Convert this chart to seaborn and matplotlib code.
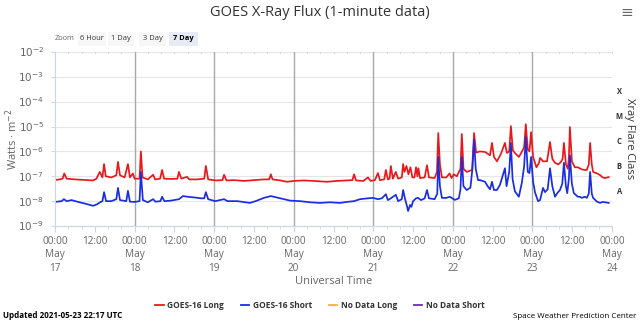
import numpy as np
import pandas as pd
import seaborn as sns
import matplotlib
matplotlib.use("Agg")
import matplotlib.pyplot as plt
from matplotlib.lines import Line2D
import matplotlib.ticker as mticker

# ---------------- data (hours since 2021-05-17 00:00 UTC, flux in W/m^2) ----------------
hours_long = [0, 1.5, 2.3, 2.8, 3.5, 6, 9, 11.5, 12.5, 13.5, 14.3, 14.8, 15.3, 17, 18.5, 19.0,
              19.6, 21, 22.0, 22.6, 23.5, 24.0, 25.5, 25.9, 26.4, 28, 29.6, 30.2, 31.7, 32.3,
              32.9, 35, 36.9, 37.4, 38.1, 39.8, 40.5, 43, 45.0, 45.5, 46.2, 48.5, 50.5, 51.0,
              51.7, 54, 57, 60, 63, 64.6, 65.1, 65.6, 68, 70, 72, 75, 78, 82, 85, 88, 89.7,
              90.2, 90.8, 93, 94.4, 95.2, 96.5, 97.4, 98.0, 99.3, 99.8, 100.4, 100.9, 101.3,
              101.9, 102.8, 103.5, 104.6, 105.0, 105.4, 106.0, 106.6, 107.2, 107.8, 108.4,
              108.9, 109.3, 109.6, 110.1, 111.5, 112.2, 112.8, 114.5, 115.2, 115.6, 116.1,
              116.7, 118, 119.0, 119.6, 120.3, 121.2, 122.3, 122.7, 123.2, 124.2, 125.8,
              126.4, 127.0, 128.2, 129.7, 131.2, 131.8, 132.4, 133.3, 134.5, 135.7, 136.3,
              137.0, 137.5, 138.1, 138.7, 139.9, 140.8, 141.5, 142.0, 142.6, 143.1, 143.6,
              144.2, 145.2, 146.0, 146.3, 147.2, 148.4, 149.3, 150.0, 150.8, 151.8, 152.6,
              153.1, 153.5, 154.1, 154.7, 155.0, 155.3, 155.9, 156.8, 157.7, 158.3, 158.9,
              159.8, 160.4, 161.0, 161.4, 161.9, 162.3, 163.5, 164.4, 165.2, 165.9, 167.0]
flux_long = [7.1e-8, 7.5e-8, 8e-8, 1.3e-7, 8e-8, 7.5e-8, 7.1e-8, 6.8e-8, 8e-8, 1.5e-7, 9e-8,
             3.1e-7, 1.0e-7, 9e-8, 1.1e-7, 3.8e-7, 1.1e-7, 9e-8, 3.1e-7, 9e-8, 1.3e-7, 8e-8,
             8e-8, 1.0e-6, 9e-8, 7.5e-8, 1.15e-7, 7.5e-8, 8e-8, 1.8e-7, 8e-8, 7.8e-8, 8e-8,
             1.5e-7, 8e-8, 9.5e-8, 7.5e-8, 7.5e-8, 8e-8, 2.6e-7, 7.5e-8, 6.8e-8, 7e-8,
             1.15e-7, 6.8e-8, 7e-8, 6.5e-8, 7e-8, 7.5e-8, 7.5e-8, 1.2e-7, 7.5e-8, 6.8e-8,
             6.0e-8, 6.5e-8, 6.8e-8, 6.5e-8, 6.0e-8, 6.5e-8, 6.8e-8, 7e-8, 1.2e-7, 6.8e-8,
             6.5e-8, 9e-8, 6.5e-8, 7e-8, 1.35e-7, 7e-8, 7.5e-8, 1.8e-7, 7.5e-8, 8e-8, 2.6e-7,
             8e-8, 1.5e-7, 8e-8, 9e-8, 3.1e-7, 1.5e-7, 2.6e-7, 1.2e-7, 2.3e-7, 9e-8, 9e-8,
             2.3e-7, 1.0e-7, 2.1e-7, 8.5e-8, 9e-8, 2.8e-7, 9e-8, 8.5e-8, 1.5e-7, 5.5e-6,
             3e-7, 9e-8, 9e-8, 1.3e-7, 8.5e-8, 1.2e-7, 1.0e-7, 2e-7, 5.0e-6, 2e-7, 1.5e-7,
             1.8e-7, 5.5e-6, 9e-7, 1.0e-6, 9.5e-7, 7e-7, 2.2e-6, 6e-7, 4e-7, 8e-7, 2.2e-6,
             8.7e-7, 1.0e-6, 1.05e-5, 1.1e-6, 8.7e-7, 6e-7, 9.5e-7, 1.5e-6, 1.25e-5, 1.2e-6,
             1.0e-6, 6e-6, 6e-7, 2.3e-7, 3.5e-7, 5.5e-7, 4e-7, 4e-7, 2.4e-6, 5e-7, 3.5e-7,
             3e-7, 3.8e-7, 5e-7, 2.2e-6, 3e-7, 2e-7, 6e-7, 9.5e-6, 4e-7, 2.3e-7, 2.3e-7,
             2.1e-7, 1.9e-7, 1.8e-7, 1.8e-7, 3e-7, 2.2e-6, 3e-7, 1.5e-7, 1.3e-7, 1.12e-7,
             9e-8, 8.5e-8, 9.3e-8]

hours_short = [0, 2.0, 2.7, 3.5, 5, 7, 9, 10.6, 11.5, 12.7, 13.6, 14.3, 14.8, 15.4, 17, 18.5,
               19.0, 19.6, 21.5, 22.0, 22.6, 24, 25.5, 25.9, 26.5, 28, 29.6, 30.3, 31.8, 32.3,
               33.0, 35, 37.4, 38.6, 40, 42.2, 44, 45.0, 45.5, 46.2, 48.3, 51.0, 52, 55, 58.8,
               60.5, 63, 65.1, 67.9, 70.9, 73.9, 76.9, 79.9, 82.9, 86.0, 88, 90.2, 92.0, 94.4,
               95.9, 97.4, 98.6, 99.8, 100.4, 101.3, 102.8, 103.5, 104.6, 105.0, 105.6, 106.2,
               106.5, 107.1, 107.5, 108.0, 108.9, 109.5, 110.4, 111.5, 112.2, 112.8, 114.5,
               115.3, 115.6, 116.1, 116.7, 118, 119.1, 120.6, 121.8, 122.3, 122.7, 123.2,
               124.2, 125.3, 125.9, 126.4, 126.9, 127.6, 128.2, 129.7, 130.5, 131.2, 131.8,
               132.4, 133.3, 134.2, 135.7, 136.2, 137.0, 137.5, 138.0, 138.7, 139.9, 140.8,
               141.5, 142.0, 142.6, 143.1, 143.6, 144.2, 144.8, 145.7, 146.3, 147.2, 147.8,
               148.6, 149.3, 150.0, 150.8, 151.5, 152.3, 153.0, 153.5, 154.1, 154.5, 155.0,
               155.3, 155.9, 156.5, 157.7, 158.3, 158.9, 159.8, 160.4, 161.0, 161.4, 161.9,
               162.3, 163.5, 164.4, 165.2, 165.9, 167.0]
flux_short = [9.3e-9, 1.0e-8, 1.2e-8, 1.0e-8, 1.1e-8, 9.3e-9, 8e-9, 7e-9, 6.5e-9, 7.5e-9,
              9e-9, 1.0e-8, 2.3e-8, 1.0e-8, 1.0e-8, 1.2e-8, 3.4e-8, 1.1e-8, 1.0e-8, 2.6e-8,
              9.5e-9, 9.3e-9, 1.0e-8, 1.5e-7, 1.1e-8, 9e-9, 1.2e-8, 9.5e-9, 1.0e-8, 1.5e-8,
              1.0e-8, 1.05e-8, 1.2e-8, 1.6e-8, 1.5e-8, 1.4e-8, 1.3e-8, 1.3e-8, 2.3e-8, 1.2e-8,
              1.0e-8, 1.2e-8, 1.0e-8, 1.0e-8, 8.5e-9, 1.0e-8, 1.35e-8, 1.6e-8, 1.3e-8,
              1.05e-8, 1.0e-8, 9e-9, 8.5e-9, 9e-9, 8.5e-9, 9.3e-9, 1.0e-8, 1.2e-8, 1.3e-8,
              1.35e-8, 1.2e-8, 1.3e-8, 1.9e-8, 1.1e-8, 1.3e-8, 1.8e-8, 1.0e-8, 1.2e-8, 2.8e-8,
              1.2e-8, 6e-9, 4.0e-9, 7e-9, 5.9e-9, 1.0e-8, 1.3e-8, 1.35e-8, 1.1e-8, 1.3e-8,
              2.8e-8, 1.3e-8, 1.2e-8, 2e-8, 6.0e-7, 4e-8, 1.35e-8, 1.35e-8, 1.5e-8, 1.12e-8,
              1.3e-8, 3e-8, 6e-7, 4e-8, 2.8e-8, 3.5e-8, 2e-7, 3e-6, 2e-7, 7e-8, 7e-8, 6e-8,
              4e-8, 3e-8, 6e-8, 2.8e-8, 2.8e-8, 4.5e-8, 2.1e-7, 4e-8, 1.5e-7, 2.2e-6, 8e-8,
              2.5e-8, 1.5e-8, 5.4e-8, 2.5e-7, 3.8e-6, 1.5e-7, 1.35e-7, 6e-7, 6e-8, 2.2e-8,
              1e-8, 1.1e-8, 3.4e-8, 2.3e-8, 3e-8, 2.1e-7, 4e-8, 1.5e-8, 2.1e-8, 2.8e-8, 5e-8,
              3.5e-7, 4e-8, 2.1e-8, 8e-8, 7e-7, 5e-8, 2.1e-8, 1.5e-8, 1.5e-8, 1.35e-8, 1.5e-8,
              1.35e-8, 2e-8, 1.5e-7, 2e-8, 1.35e-8, 9.5e-9, 8.5e-9, 9.3e-9, 9e-9, 8.5e-9]

series_names = ["GOES-16 Long", "GOES-16 Short", "No Data Long", "No Data Short"]
series_colors = ["#e8191c", "#1a2de0", "#f2b134", "#6a2ab8"]
day_labels = ["May\n17", "May\n18", "May\n19", "May\n20", "May\n21", "May\n22", "May\n23", "May\n24"]
decade_exps = [-9, -8, -7, -6, -5, -4, -3, -2]
flare_classes = ["A", "B", "C", "M", "X"]
zoom_buttons = ["6 Hour", "1 Day", "3 Day", "7 Day"]

df = pd.concat([
    pd.DataFrame({"hours": hours_long, "flux": flux_long, "series": series_names[0]}),
    pd.DataFrame({"hours": hours_short, "flux": flux_short, "series": series_names[1]}),
], ignore_index=True)

# ---------------- figure ----------------
FONT = "Open Sans"
plt.rcParams["font.family"] = [FONT, "DejaVu Sans"]
fig = plt.figure(figsize=(6.4, 3.22), dpi=100)
ax = fig.add_axes([55 / 640, 1 - 226 / 322, (612 - 55) / 640, (226 - 52) / 322])

sns.lineplot(data=df, x="hours", y="flux", hue="series", hue_order=series_names[:2],
             palette=dict(zip(series_names, series_colors)), linewidth=1.25,
             legend=False, ax=ax, estimator=None, sort=True)

ax.set_yscale("log")
ax.set_ylim(1e-9, 1e-2)
ax.set_xlim(0, 168)

# grid
for e in decade_exps:
    ax.axhline(10.0 ** e, color="#e6e6e6", lw=0.8, zorder=0)
for d in range(1, 7):
    ax.axvline(24 * d, color="#a8a8a8", lw=1.0, zorder=1)

for s in ["top", "right"]:
    ax.spines[s].set_visible(False)
for s in ["left", "bottom"]:
    ax.spines[s].set_color("#ccd6eb")
    ax.spines[s].set_linewidth(0.8)

# x ticks
major = np.arange(0, 169, 12)
ax.set_xticks(major)
labels = []
for h in major:
    if h % 24 == 0:
        labels.append("00:00\n" + day_labels[int(h // 24)])
    else:
        labels.append("12:00")
ax.set_xticklabels(labels, fontsize=7.2, color="#666666", linespacing=1.3, va="top")
ax.xaxis.set_minor_locator(mticker.MultipleLocator(4))
ax.tick_params(axis="x", which="major", length=4, color="#ccd6eb", pad=3)
ax.tick_params(axis="x", which="minor", length=2.5, color="#ccd6eb")
ax.set_xlabel("Universal Time", fontsize=8, color="#666666", labelpad=2)

# top minor tick marks
for h in np.arange(0, 169, 4):
    ax.plot([h, h], [1e-2, 10 ** -2.06], color="#ccd6eb", lw=0.7, clip_on=False, zorder=0)

# y ticks
ax.set_yticks([10.0 ** e for e in decade_exps])
ax.set_yticklabels([f"$10^{{{e}}}$" for e in decade_exps], fontsize=7.5, color="#666666")
ax.yaxis.set_minor_locator(mticker.LogLocator(base=10, subs=np.arange(2, 10)))
ax.yaxis.set_minor_formatter(mticker.NullFormatter())
ax.tick_params(axis="y", which="major", length=3, color="#ccd6eb", pad=5)
ax.tick_params(axis="y", which="minor", length=2, color="#ccd6eb")
ax.set_ylabel("")
fig.text(12 / 640, 1 - 139 / 322, "Watts · m$^{-2}$", rotation=90, fontsize=8,
         color="#666666", ha="center", va="center")

# right-side flare class labels
ytr = ax.get_yaxis_transform()
for i, c in enumerate(flare_classes):
    ax.text(1.013, 10.0 ** (-7.6 + i), c, transform=ytr, fontsize=5.5, color="#333333",
            ha="center", va="center", fontweight="bold")
fig.text(630 / 640, 1 - 139 / 322, "Xray Flare Class", rotation=270,
         fontsize=8, color="#333333", ha="center", va="center")

# title & menu
fig.text(0.5, 1 - 13 / 322, "GOES X-Ray Flux (1-minute data)", ha="center", va="center",
         fontsize=10.5, color="#333333")
fig.text(627 / 640, 1 - 13 / 322, "≡", ha="center", va="center", fontsize=11,
         color="#666666", family="DejaVu Sans")

# zoom buttons
fig.text(55 / 640, 1 - 39 / 322, "Zoom", fontsize=5.4, color="#666666", va="center", ha="left")
btn_bounds = [(78, 106), (108, 134), (139, 166), (169, 198)]
for lbl, (x0, x1) in zip(zoom_buttons, btn_bounds):
    active = lbl == "7 Day"
    fig.patches.append(plt.Rectangle((x0 / 640, 1 - 46 / 322), (x1 - x0) / 640, 14 / 322,
                                     transform=fig.transFigure,
                                     facecolor="#e6ebf5" if active else "#f7f7f7",
                                     edgecolor="none", zorder=0))
    fig.text((x0 + x1) / 2 / 640, 1 - 39 / 322, lbl, fontsize=5.4, ha="center", va="center",
             color="#000000" if active else "#333333",
             fontweight="bold" if active else "normal")

# legend
handles = [Line2D([0], [0], color=c, lw=1.3) for c in series_colors]
leg = fig.legend(handles, series_names, loc="center", bbox_to_anchor=(0.5, 1 - 305 / 322),
                 ncol=4, frameon=False, fontsize=6.0, handlelength=1.0, handletextpad=0.45,
                 columnspacing=2.0)
for t in leg.get_texts():
    t.set_color("#333333")
    t.set_fontweight("bold")

fig.text(3 / 640, 1 - 316 / 322, "Updated 2021-05-23 22:17 UTC", fontsize=5.8, ha="left",
         va="center", color="#000000", fontweight="bold")
fig.text(636 / 640, 1 - 317 / 322, "Space Weather Prediction Center", fontsize=5.8, ha="right",
         va="center", color="#000000")

fig.savefig("out.png", dpi=100)
